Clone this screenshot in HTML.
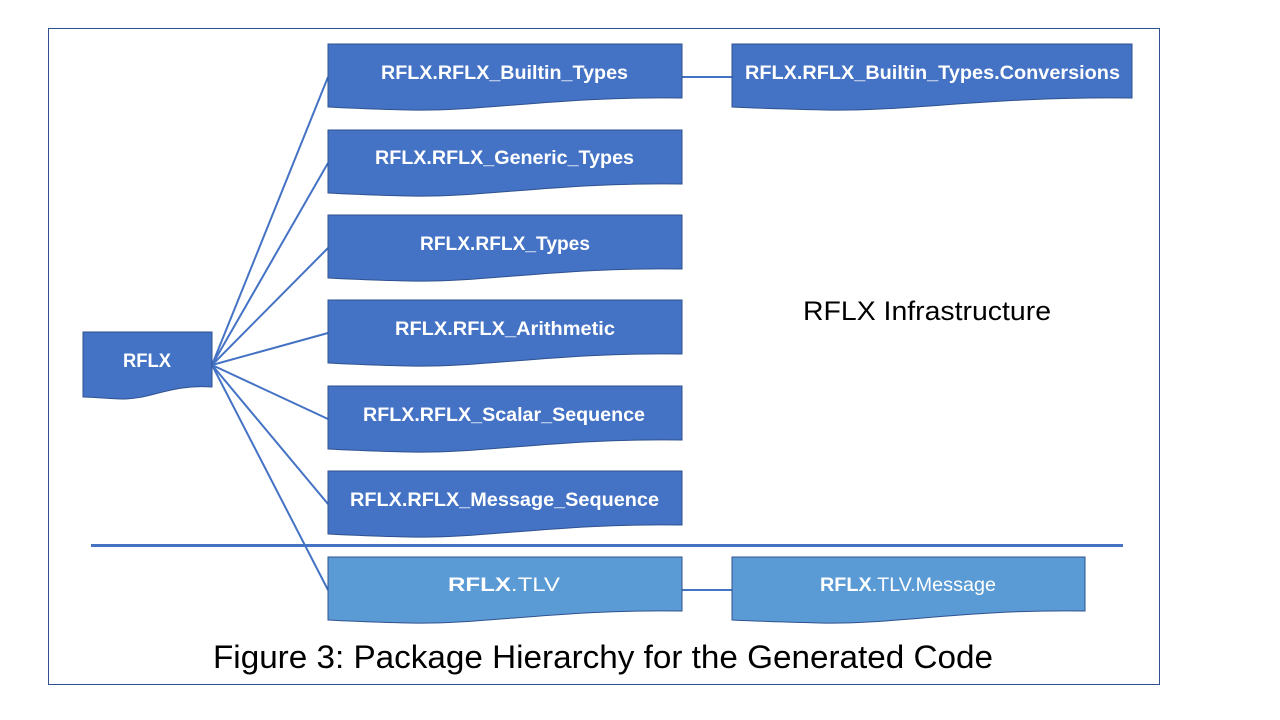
<!DOCTYPE html>
<html><head><meta charset="utf-8"><style>html,body{margin:0;padding:0;background:#fff}svg{display:block}</style></head>
<body>
<svg width="1280" height="720" viewBox="0 0 1280 720" xmlns="http://www.w3.org/2000/svg" font-family="'Liberation Sans', sans-serif">
<rect x="48.5" y="28.5" width="1111" height="656" fill="none" stroke="#2F528F" stroke-width="1"/>
<g stroke="#4472C4" stroke-width="2" fill="none">
<line x1="212" y1="365" x2="328" y2="77"/>
<line x1="212" y1="365" x2="328" y2="163"/>
<line x1="212" y1="365" x2="328" y2="248"/>
<line x1="212" y1="365" x2="328" y2="333"/>
<line x1="212" y1="365" x2="328" y2="419"/>
<line x1="212" y1="365" x2="328" y2="504"/>
<line x1="212" y1="365" x2="328" y2="590"/>
<line x1="682" y1="77" x2="732" y2="77"/>
<line x1="682" y1="590" x2="732" y2="590"/>
</g>
<line x1="91" y1="545.5" x2="1123" y2="545.5" stroke="#4472C4" stroke-width="3"/>
<g fill="#4472C4" stroke="#2F528F" stroke-width="1">
<path d="M83,332 H212 V387 C170,384 150,400 120,399 C100,398 90,397 83,397 Z"/>
<path d="M328,44 H682 V98 C560,96 480,112 410,110 C370,109 345,108 328,107 Z"/>
<path d="M328,130 H682 V184 C560,182 480,198 410,196 C370,195 345,194 328,193 Z"/>
<path d="M328,215 H682 V269 C560,267 480,283 410,281 C370,280 345,279 328,278 Z"/>
<path d="M328,300 H682 V354 C560,352 480,368 410,366 C370,365 345,364 328,363 Z"/>
<path d="M328,386 H682 V440 C560,438 480,454 410,452 C370,451 345,450 328,449 Z"/>
<path d="M328,471 H682 V525 C560,523 480,539 410,537 C370,536 345,535 328,534 Z"/>
<path d="M732,44 H1132 V98 C995,96 905,112 825,110 C780,109 752,108 732,107 Z"/>
</g>
<g fill="#5B9BD5" stroke="#2F528F" stroke-width="1">
<path d="M328,557 H682 V611 C560,609 480,625 410,623 C370,622 345,621 328,620 Z"/>
<path d="M732,557 H1085 V611 C967,609 890,625 820,623 C780,622 752,621 732,620 Z"/>
</g>
<g fill="#fff" font-weight="bold" font-size="19" lengthAdjust="spacingAndGlyphs">
<text x="123" y="367" textLength="48" lengthAdjust="spacingAndGlyphs">RFLX</text>
<text x="381" y="79" textLength="247" lengthAdjust="spacingAndGlyphs">RFLX.RFLX_Builtin_Types</text>
<text x="375" y="164" textLength="259" lengthAdjust="spacingAndGlyphs">RFLX.RFLX_Generic_Types</text>
<text x="420" y="250" textLength="170" lengthAdjust="spacingAndGlyphs">RFLX.RFLX_Types</text>
<text x="395" y="335" textLength="220" lengthAdjust="spacingAndGlyphs">RFLX.RFLX_Arithmetic</text>
<text x="363" y="421" textLength="282" lengthAdjust="spacingAndGlyphs">RFLX.RFLX_Scalar_Sequence</text>
<text x="350" y="506" textLength="309" lengthAdjust="spacingAndGlyphs">RFLX.RFLX_Message_Sequence</text>
<text x="745" y="79" textLength="375" lengthAdjust="spacingAndGlyphs">RFLX.RFLX_Builtin_Types.Conversions</text>
<text x="448" y="591" textLength="112" lengthAdjust="spacingAndGlyphs">RFLX<tspan font-weight="normal">.TLV</tspan></text>
<text x="820" y="591" textLength="176" lengthAdjust="spacingAndGlyphs">RFLX<tspan font-weight="normal">.TLV.Message</tspan></text>
</g>
<text x="803" y="320" font-size="27" fill="#000" textLength="248" lengthAdjust="spacingAndGlyphs">RFLX Infrastructure</text>
<text x="213" y="668" font-size="32" fill="#000" textLength="780" lengthAdjust="spacingAndGlyphs">Figure 3: Package Hierarchy for the Generated Code</text>
</svg>
</body></html>
